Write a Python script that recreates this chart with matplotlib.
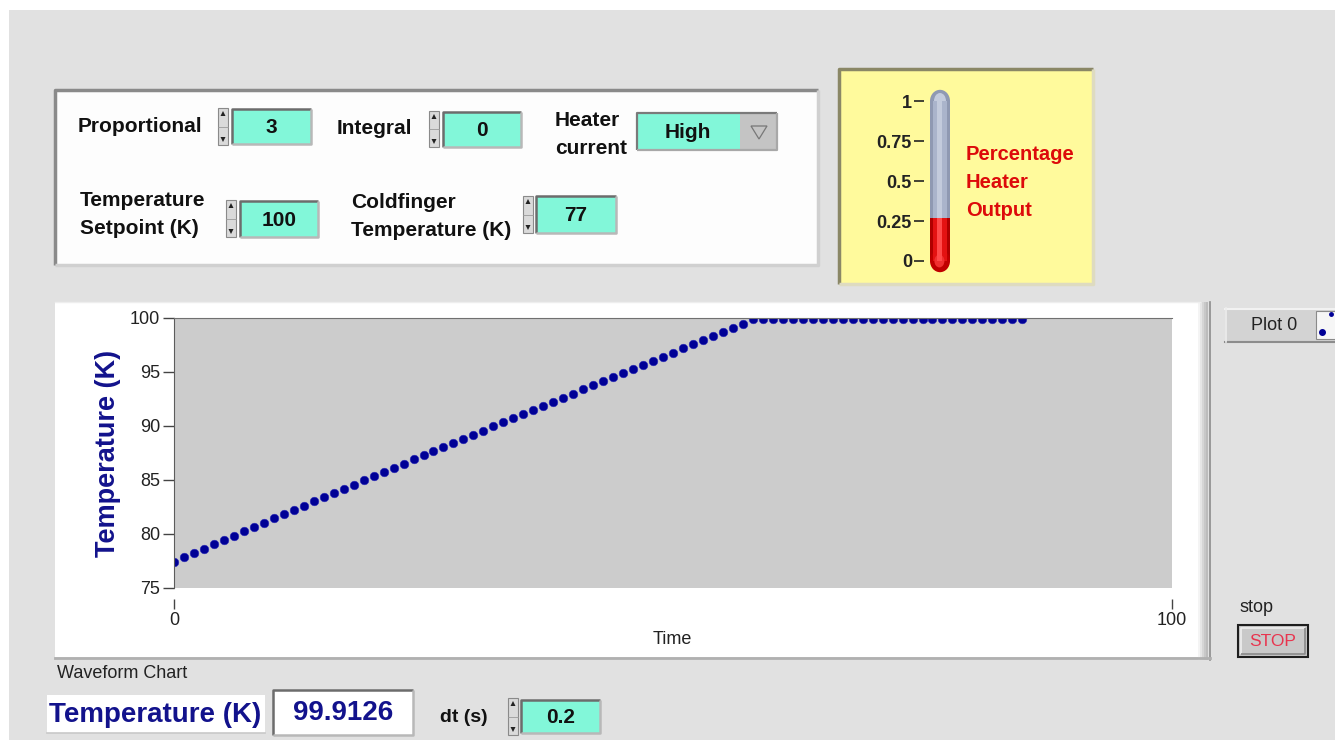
import matplotlib
matplotlib.use("Agg")
import matplotlib.pyplot as plt
from matplotlib.patches import Rectangle, Polygon, Ellipse

plt.rcParams['font.family'] = ['Liberation Sans', 'DejaVu Sans']

# front panel values
proportional = "3"
integral = "0"
heater_current = "High"
setpoint = "100"
coldfinger = "77"
temp_reading = "99.9126"
dt_value = "0.2"
heater_output = 0.27

# waveform chart history (one sample per step)
temperature = [77.45, 77.85, 78.25, 78.65, 79.05, 79.45, 79.85, 80.25, 80.65, 81.05, 81.45,
               81.84, 82.23, 82.62, 83.01, 83.40, 83.79, 84.18, 84.57, 84.96, 85.35,
               85.74, 86.13, 86.52, 86.91, 87.30,
               87.68, 88.06, 88.44, 88.82, 89.20, 89.58, 89.96, 90.34, 90.72, 91.10,
               91.48, 91.86, 92.24, 92.62, 93.00, 93.38, 93.76, 94.14, 94.52, 94.90,
               95.28, 95.66, 96.04, 96.42, 96.80, 97.18, 97.56, 97.94, 98.32, 98.70,
               99.08, 99.42,
               99.91, 99.91, 99.91, 99.91, 99.91, 99.91, 99.91, 99.91, 99.91, 99.91,
               99.91, 99.91, 99.91, 99.91, 99.91, 99.91, 99.91, 99.91, 99.91, 99.91,
               99.91, 99.91, 99.91, 99.91, 99.91, 99.91, 99.91, 99.91]
time = list(range(len(temperature)))
y_ticks = [75, 80, 85, 90, 95, 100]
x_ticks = [0, 100]
thermo_ticks = [0, 0.25, 0.5, 0.75, 1]
thermo_labels = ["0", "0.25", "0.5", "0.75", "1"]

W, H = 1335, 740
TEAL = '#82f7d9'
NAVY = '#12128c'

fig = plt.figure(figsize=(W / 100, H / 100), dpi=100)
fig.patch.set_facecolor('#ffffff')

# pixel-space canvas for the panel decorations
bg = fig.add_axes([0, 0, 1, 1])
bg.set_xlim(0, W)
bg.set_ylim(H, 0)
bg.axis('off')


def rect(x0, y0, x1, y1, fc, ec='none', lw=0, z=1):
    bg.add_patch(Rectangle((x0, y0), x1 - x0, y1 - y0, fc=fc, ec=ec, lw=lw, zorder=z))


def bevel(x0, y0, x1, y1, dark='#7a7a7a', light='#c9c9c9', lw=1.6, z=2):
    bg.plot([x0, x0, x1], [y1, y0, y0], color=dark, lw=lw, zorder=z, solid_capstyle='butt')
    bg.plot([x0, x1, x1], [y1, y1, y0], color=light, lw=lw, zorder=z, solid_capstyle='butt')


def spinner(x, y0, y1):
    rect(x, y0, x + 10, y1, '#dadada', '#8a8a8a', 0.8)
    ym = (y0 + y1) / 2
    bg.plot([x, x + 10], [ym, ym], color='#9a9a9a', lw=0.6, zorder=2)
    bg.add_patch(Polygon([[x + 2.5, y0 + 8], [x + 7.5, y0 + 8], [x + 5, y0 + 3]], fc='#222', zorder=3))
    bg.add_patch(Polygon([[x + 2.5, y1 - 8], [x + 7.5, y1 - 8], [x + 5, y1 - 3]], fc='#222', zorder=3))


def numbox(x0, y0, x1, y1, txt, fc=TEAL, color='#111', size=15):
    rect(x0, y0, x1, y1, fc)
    bevel(x0, y0, x1, y1, dark='#6c6c6c', light='#b8b8b8', lw=1.8)
    bg.text((x0 + x1) / 2, (y0 + y1) / 2 + 1, txt, ha='center', va='center',
            fontsize=size, fontweight='bold', color=color, zorder=4)


def label(x, y, txt, size=15, weight='bold', color='#111', ha='left'):
    bg.text(x, y, txt, ha=ha, va='center', fontsize=size, fontweight=weight, color=color, zorder=4)


# panel background (white margin on top and left like the screenshot)
rect(9, 10, W, H, '#e1e1e1', z=0)

# controls cluster
rect(55, 90, 818, 265, '#fdfdfd')
bevel(55, 90, 818, 265, dark='#8a8a8a', light='#d0d0d0', lw=2.5)

label(78, 127, "Proportional")
spinner(218, 108, 145)
numbox(232, 109, 311, 144, proportional)

label(337, 128, "Integral")
spinner(429, 111, 147)
numbox(443, 112, 521, 147, integral)

label(555, 120, "Heater")
label(555, 148, "current")
rect(637, 113, 740, 150, TEAL)
rect(740, 113, 777, 150, '#c4c4c4')
bevel(637, 113, 777, 150, dark='#7a7a7a', light='#a8a8a8', lw=1.6)
bg.text(688, 132, heater_current, ha='center', va='center', fontsize=15,
        fontweight='bold', color='#111', zorder=4)
bg.add_patch(Polygon([[751, 126], [767, 126], [759, 139]], fc='none', ec='#777', lw=0.9, zorder=4))

label(80, 201, "Temperature")
label(80, 229, "Setpoint (K)")
spinner(226, 200, 237)
numbox(240, 201, 318, 237, setpoint)

label(351, 203, "Coldfinger")
label(351, 231, "Temperature (K)")
spinner(523, 196, 233)
numbox(536, 196, 616, 233, coldfinger)

# heater output thermometer panel
rect(839, 69, 1093, 284, '#fffa9c')
bevel(839, 69, 1093, 284, dark='#8a8766', light='#dedbc0', lw=2.5)
label(966, 155, "Percentage", size=14.5, color='#dd0a0a')
label(966, 182, "Heater", size=14.5, color='#dd0a0a')
label(966, 210, "Output", size=14.5, color='#dd0a0a')

th = fig.add_axes([930 / W, (H - 261) / H, 20 / W, 160 / H])
th.set_xlim(0, 1)
th.set_ylim(0, 1)
th.patch.set_alpha(0)
th.add_patch(Ellipse((0.5, 1.0), 1.0, 0.14, fc='#8f99b2', clip_on=False, zorder=1))
th.add_patch(Ellipse((0.5, 1.0), 0.6, 0.10, fc='#c3cbdc', clip_on=False, zorder=2))
th.bar(0.5, 1, width=1, color='#8f99b2', zorder=1)
th.bar(0.5, 1, width=0.7, color='#aab4cb', zorder=2)
th.bar(0.45, 1, width=0.25, color='#c3cbdc', zorder=3)
th.bar(0.5, heater_output, width=1, color='#b00000', zorder=4)
th.bar(0.5, heater_output, width=0.7, color='#e41212', zorder=5)
th.bar(0.45, heater_output, width=0.25, color='#ff4a4a', zorder=6)
th.add_patch(Ellipse((0.5, 0.0), 1.0, 0.14, fc='#c00000', clip_on=False, zorder=4))
th.add_patch(Ellipse((0.47, 0.0), 0.5, 0.08, fc='#f03030', clip_on=False, zorder=5))
for s in th.spines.values():
    s.set_visible(False)
th.spines['left'].set_position(('outward', 4))
th.set_xticks([])
th.set_yticks(thermo_ticks, thermo_labels)
th.tick_params(axis='y', direction='out', length=7, width=1.2, pad=2,
               labelsize=13, colors='#222')
for t in th.get_yticklabels():
    t.set_fontweight('bold')

# waveform chart frame
rect(55, 302, 1200, 657, '#ffffff')
for i, c in enumerate(['#f4f4f4', '#e6e6e6', '#d6d6d6', '#c8c8c8', '#bcbcbc']):
    rect(1198 + 2 * i, 302, 1200 + 2 * i, 660, c)
bg.plot([1209.5, 1209.5], [302, 660], color='#8c8c8c', lw=1.2, zorder=2)
bg.plot([55, 1210], [658, 658], color='#b0b0b0', lw=2, zorder=2)
bg.plot([55, 1200], [302, 302], color='#eeeeee', lw=1, zorder=2)

ax = fig.add_axes([174 / W, (H - 588) / H, 998 / W, 270 / H])
ax.set_facecolor('#cccccc')
ax.plot(time, temperature, 'o', color='#000096', ms=6.2, mec='#2a2ab8', mew=0.4)
ax.set_xlim(0, 100)
ax.set_ylim(75, 100)
ax.set_yticks(y_ticks)
ax.set_xticks(x_ticks)
ax.spines['right'].set_visible(False)
ax.spines['bottom'].set_visible(False)
ax.spines['bottom'].set_position(('outward', 8))
ax.spines['left'].set_color('#5c5c5c')
ax.spines['top'].set_color('#707070')
ax.tick_params(axis='y', direction='out', length=8, width=1, color='#444',
               labelsize=13, pad=2, labelcolor='#222')
ax.tick_params(axis='x', direction='out', length=7, width=1, color='#444',
               labelsize=13, pad=2, labelcolor='#222')
ax.set_ylabel("Temperature (K)", fontsize=19.5, fontweight='bold', color=NAVY)
ax.yaxis.set_label_coords(-0.053, 0.5)
ax.set_xlabel("Time", fontsize=13, color='#222')
ax.xaxis.set_label_coords(0.499, -0.16)

# plot legend
rect(1225, 308, 1335, 342, '#d3d3d3')
bg.plot([1225, 1335], [309, 309], color='#f2f2f2', lw=1.5, zorder=2)
bg.plot([1225, 1335], [341.5, 341.5], color='#8c8c8c', lw=1.5, zorder=2)
bg.plot([1225.5, 1225.5], [308, 342], color='#ededed', lw=1.2, zorder=2)
label(1251, 325, "Plot 0", size=13, weight='normal', color='#222')
rect(1316, 311, 1336, 339, '#f6f6f6', '#8a8a8a', 0.8)
bg.plot([1322], [332], 'o', color='#000096', ms=4, zorder=4)
bg.plot([1331], [314], 'o', color='#000096', ms=2.5, zorder=4)

# stop button
label(1240, 608, "stop", size=13, weight='normal', color='#222')
rect(1238, 625, 1308, 657, '#c9c9c9', '#1e1e1e', 1.5)
bevel(1241, 628, 1305, 654, dark='#efefef', light='#8a8a8a', lw=1.2)
bg.text(1273, 641, "STOP", ha='center', va='center', fontsize=12.5, color='#e8344e', zorder=4)

# bottom indicators
label(57, 673, "Waveform Chart", size=13, weight='normal', color='#222')
rect(47, 695, 265, 733, '#ffffff')
bg.plot([47, 265], [733, 733], color='#c8c8c8', lw=1.2, zorder=2)
label(49, 715, "Temperature (K)", size=20, color=NAVY)
numbox(273, 690, 413, 735, temp_reading, fc='#ffffff', color=NAVY, size=20)

label(440, 717, "dt (s)", size=14)
spinner(508, 698, 735)
numbox(521, 700, 600, 733, dt_value)

fig.savefig("out.png", dpi=100, facecolor=fig.get_facecolor())
